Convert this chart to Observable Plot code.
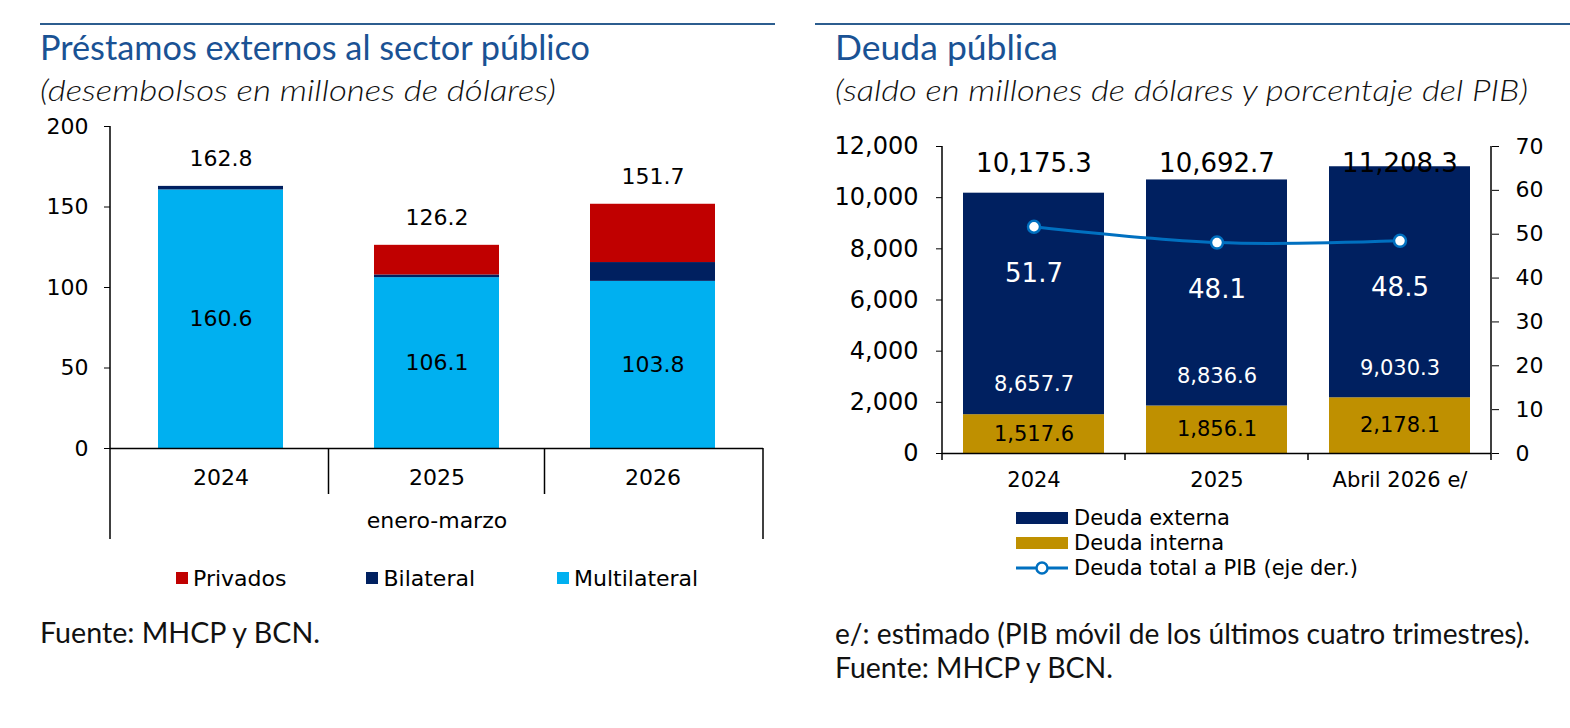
<!DOCTYPE html>
<html>
<head>
<meta charset="utf-8">
<script src="https://cdn.jsdelivr.net/npm/d3@7"></script>
<script src="https://cdn.jsdelivr.net/npm/@observablehq/plot@0.6"></script>
<style>
  html, body { margin: 0; padding: 0; background: #fff; }
  #page { position: relative; width: 1570px; height: 728px; overflow: hidden; background: #fff; }
  .abs { position: absolute; white-space: nowrap; }
  .rule { position: absolute; height: 2px; background: #2c5d8f; }
  .title { font-family: Lato, "Noto Sans", sans-serif; font-size: 34px; line-height: 34px; color: #1a5294; transform-origin: 0 50%; }
  .sub { font-family: Lato, "Noto Sans", sans-serif; font-style: italic; font-weight: 300; font-size: 30px; line-height: 30px; color: #111; transform-origin: 0 50%; }
  .note { font-family: Lato, "Noto Sans", sans-serif; font-weight: 400; font-size: 28px; line-height: 28px; color: #111; transform-origin: 0 50%; }
  .leg { font-family: "DejaVu Sans", Verdana, sans-serif; font-size: 22px; color: #000; display: flex; align-items: center; height: 22px; }
  .leg .item { display: flex; align-items: center; }
  .leg .sq { width: 12px; height: 12px; margin-right: 5px; }
  .legR { font-family: "DejaVu Sans", Verdana, sans-serif; font-size: 21px; color: #000; }
  .legR .row { display: flex; align-items: center; height: 25px; }
  .legR .sw { width: 52px; height: 12px; margin-right: 6px; }
  .plot { position: absolute; }
</style>
</head>
<body>
<div id="page">
  <div class="rule" style="left:40px; top:23px; width:735px;"></div>
  <div class="rule" style="left:815px; top:23px; width:755px;"></div>
  <div class="abs title fit" data-w="550" style="left:40px; top:30px;">Préstamos externos al sector público</div>
  <div class="abs sub fit" data-w="516" style="left:40px; top:74px;">(desembolsos en millones de dólares)</div>
  <div class="abs title fit" data-w="223" style="left:835px; top:30px;">Deuda pública</div>
  <div class="abs sub fit" data-w="693" style="left:835px; top:74px;">(saldo en millones de dólares y porcentaje del PIB)</div>

  <div id="left" class="plot" style="left:0px; top:100px;"></div>
  <div id="right" class="plot" style="left:800px; top:100px;"></div>

  <div id="legL" class="abs leg" style="left:176px; top:567px;"></div>
  <div id="legR" class="abs legR" style="left:1016px; top:505px;"></div>

  <div class="abs note fit" data-w="280" style="left:40px; top:618px;">Fuente: MHCP y BCN.</div>
  <div class="abs note fit" data-w="695" style="left:835px; top:619px;">e/: estimado (PIB móvil de los últimos cuatro trimestres).</div>
  <div class="abs note fit" data-w="278" style="left:835px; top:653px;">Fuente: MHCP y BCN.</div>
</div>
<script>
// ---------- Data: Préstamos externos al sector público ----------
const years = ["2024", "2025", "2026"];
const multilateral = [160.6, 106.1, 103.8];
const bilateral = [2.2, 1.7, 11.7];
const privados = [0, 18.4, 36.2];
const totalesPrestamos = [162.8, 126.2, 151.7];
const seriesPrestamos = ["Multilateral", "Bilateral", "Privados"];
const legendPrestamos = ["Privados", "Bilateral", "Multilateral"];
const coloresPrestamos = ["#00b0f0", "#002060", "#c00000"];
const yTicksPrestamos = [0, 50, 100, 150, 200];
const periodoNota = ["enero-marzo"];

// ---------- Data: Deuda pública ----------
const periodos = ["2024", "2025", "Abril 2026 e/"];
const deudaInterna = [1517.6, 1856.1, 2178.1];
const deudaExterna = [8657.7, 8836.6, 9030.3];
const deudaTotal = [10175.3, 10692.7, 11208.3];
const deudaPIB = [51.7, 48.1, 48.5];
const seriesDeuda = ["Deuda interna", "Deuda externa"];
const coloresDeuda = ["#bf9000", "#002060"];
const yTicksDeuda = [0, 2000, 4000, 6000, 8000, 10000, 12000];
const yTicksPIB = [0, 10, 20, 30, 40, 50, 60, 70];
const legendDeuda = ["Deuda externa", "Deuda interna", "Deuda total a PIB (eje der.)"];

const FONT = "DejaVu Sans, Verdana, sans-serif";
const fmt1 = d3.format(",.1f");

// ---------- Left chart ----------
const prestamos = years.flatMap((yr, i) => [
  {year: yr, serie: "Multilateral", value: multilateral[i]},
  {year: yr, serie: "Bilateral", value: bilateral[i]},
  {year: yr, serie: "Privados", value: privados[i]}
]);
const totP = years.map((yr, i) => ({year: yr, total: totalesPrestamos[i]}));

const plotL = Plot.plot({
  width: 775, height: 450,
  marginLeft: 110, marginRight: 12, marginTop: 26, marginBottom: 102,
  style: {fontFamily: FONT, fontSize: "22px", color: "#000", background: "transparent", overflow: "visible"},
  x: {domain: years, paddingInner: 0.422, paddingOuter: 0.216, label: null, axis: null},
  y: {domain: [0, 200], label: null, axis: null},
  color: {domain: seriesPrestamos, range: coloresPrestamos},
  marks: [
    Plot.barY(prestamos, {x: "year", y: "value", fill: "serie"}),
    Plot.text(prestamos.filter(d => d.serie === "Multilateral"),
      {x: "year", y: d => d.value / 2, text: d => d.value.toFixed(1), fontSize: 22, fill: "#000"}),
    Plot.text(totP, {x: "year", y: "total", dy: -27, text: d => d.total.toFixed(1), fontSize: 22, fill: "#000"}),
    Plot.ruleY([0], {stroke: "#000", strokeWidth: 1.5}),
    Plot.axisY({ticks: yTicksPrestamos, tickSize: 6, tickPadding: 16, fontSize: 22, label: null, stroke: "#000"}),
    Plot.axisX({tickSize: 0, tickPadding: 21, fontSize: 22, label: null}),
    Plot.text(periodoNota, {frameAnchor: "bottom", dy: 79, text: d => d, fontSize: 22, fill: "#000"})
  ]
});
document.getElementById("left").appendChild(plotL);

(function decorateLeft() {
  const xs = plotL.scale("x"), ys = plotL.scale("y");
  const n = years.length;
  const step = xs.step ?? (xs.range[1] - xs.range[0]) / (n - 0.422 + 2 * 0.216);
  const bw = xs.bandwidth ?? step * (1 - 0.422);
  const y0 = ys.apply(0), yTop = ys.apply(200);
  const x0 = xs.range[0], x1 = xs.range[1];
  const g = d3.select(plotL).append("g").attr("stroke", "#000").attr("stroke-width", 1.5);
  g.append("line").attr("x1", x0).attr("x2", x0).attr("y1", yTop).attr("y2", y0 + 91);
  g.append("line").attr("x1", x1).attr("x2", x1).attr("y1", y0).attr("y2", y0 + 91);
  for (let i = 1; i < n; i++) {
    const xb = xs.apply(years[i]) - (step - bw) / 2;
    g.append("line").attr("x1", xb).attr("x2", xb).attr("y1", y0).attr("y2", y0 + 46);
  }
})();

// Left legend
const legL = document.getElementById("legL");
const legGaps = [0, 80, 82];
legendPrestamos.forEach((s, i) => {
  const it = document.createElement("div");
  it.className = "item";
  it.style.marginLeft = legGaps[i] + "px";
  const sq = document.createElement("div");
  sq.className = "sq";
  sq.style.background = coloresPrestamos[seriesPrestamos.indexOf(s)];
  const tx = document.createElement("span");
  tx.textContent = s;
  it.appendChild(sq); it.appendChild(tx);
  legL.appendChild(it);
});

// ---------- Right chart ----------
const k = 12000 / 70;
const deuda = periodos.flatMap((p, i) => [
  {periodo: p, tipo: "Deuda interna", value: deudaInterna[i], base: 0},
  {periodo: p, tipo: "Deuda externa", value: deudaExterna[i], base: deudaInterna[i]}
]);
const pib = periodos.map((p, i) => ({periodo: p, pct: deudaPIB[i], total: deudaTotal[i]}));

const plotR = Plot.plot({
  width: 770, height: 420,
  marginLeft: 142, marginRight: 79, marginTop: 46, marginBottom: 67,
  style: {fontFamily: FONT, fontSize: "22px", color: "#000", background: "transparent", overflow: "visible"},
  x: {domain: periodos, paddingInner: 0.23, paddingOuter: 0.112, label: null, axis: null},
  y: {domain: [0, 12000], label: null, axis: null},
  color: {domain: seriesDeuda, range: coloresDeuda},
  marks: [
    Plot.barY(deuda, {x: "periodo", y: "value", fill: "tipo"}),
    Plot.text(deuda.filter(d => d.tipo === "Deuda interna"),
      {x: "periodo", y: d => d.value / 2, text: d => fmt1(d.value), fontSize: 21, fill: "#000"}),
    Plot.text(deuda.filter(d => d.tipo === "Deuda externa"),
      {x: "periodo", y: "base", dy: -30, text: d => fmt1(d.value), fontSize: 21, fill: "#fff"}),
    Plot.text(pib, {x: "periodo", frameAnchor: "top", dy: 7, text: d => fmt1(d.total), fontSize: 26, fill: "#000"}),
    Plot.line(pib, {x: "periodo", y: d => d.pct * k, stroke: "#0070c0", strokeWidth: 3, curve: "catmull-rom"}),
    Plot.dot(pib, {x: "periodo", y: d => d.pct * k, r: 6, fill: "#fff", stroke: "#0070c0", strokeWidth: 2.5}),
    Plot.text(pib, {x: "periodo", y: d => d.pct * k, dy: 47, text: d => d.pct.toFixed(1), fontSize: 26, fill: "#fff"}),
    Plot.ruleY([0], {stroke: "#000", strokeWidth: 1.5}),
    Plot.axisY({ticks: yTicksDeuda, tickFormat: d3.format(","), tickSize: 6, tickPadding: 18, fontSize: 24, label: null, stroke: "#000"}),
    Plot.axisY(yTicksPIB.map(v => v * k), {anchor: "right", tickFormat: v => String(Math.round(v / k)), tickSize: 7, tickPadding: 17, fontSize: 22, label: null, stroke: "#000"}),
    Plot.axisX({tickSize: 0, tickPadding: 19, fontSize: 21, label: null})
  ]
});
document.getElementById("right").appendChild(plotR);

(function decorateRight() {
  const xs = plotR.scale("x"), ys = plotR.scale("y");
  const n = periodos.length;
  const step = xs.step ?? (xs.range[1] - xs.range[0]) / (n - 0.23 + 2 * 0.112);
  const bw = xs.bandwidth ?? step * (1 - 0.23);
  const y0 = ys.apply(0), yTop = ys.apply(12000);
  const x0 = xs.range[0], x1 = xs.range[1];
  const g = d3.select(plotR).append("g").attr("stroke", "#000").attr("stroke-width", 1.5);
  g.append("line").attr("x1", x0).attr("x2", x0).attr("y1", yTop).attr("y2", y0 + 7);
  g.append("line").attr("x1", x1).attr("x2", x1).attr("y1", yTop).attr("y2", y0 + 7);
  for (let i = 1; i < n; i++) {
    const xb = xs.apply(periodos[i]) - (step - bw) / 2;
    g.append("line").attr("x1", xb).attr("x2", xb).attr("y1", y0).attr("y2", y0 + 7);
  }
})();

// Right legend
const legR = document.getElementById("legR");
legendDeuda.forEach((s, i) => {
  const row = document.createElement("div");
  row.className = "row";
  let sw;
  if (i < 2) {
    sw = document.createElement("div");
    sw.className = "sw";
    sw.style.background = coloresDeuda[seriesDeuda.indexOf(s)];
  } else {
    sw = document.createElementNS("http://www.w3.org/2000/svg", "svg");
    sw.setAttribute("width", 52); sw.setAttribute("height", 16);
    sw.style.marginRight = "6px";
    sw.innerHTML = '<line x1="0" x2="52" y1="8" y2="8" stroke="#0070c0" stroke-width="3"/>' +
      '<circle cx="26" cy="8" r="5.5" fill="#fff" stroke="#0070c0" stroke-width="2.5"/>';
  }
  const tx = document.createElement("span");
  tx.textContent = s;
  row.appendChild(sw); row.appendChild(tx);
  legR.appendChild(row);
});

// Fit the condensed title/notes fonts to reference widths
document.querySelectorAll(".fit").forEach(el => {
  const w = el.getBoundingClientRect().width;
  const target = +el.dataset.w;
  if (w > 0) el.style.transform = `scaleX(${target / w})`;
});
</script>
</body>
</html>
